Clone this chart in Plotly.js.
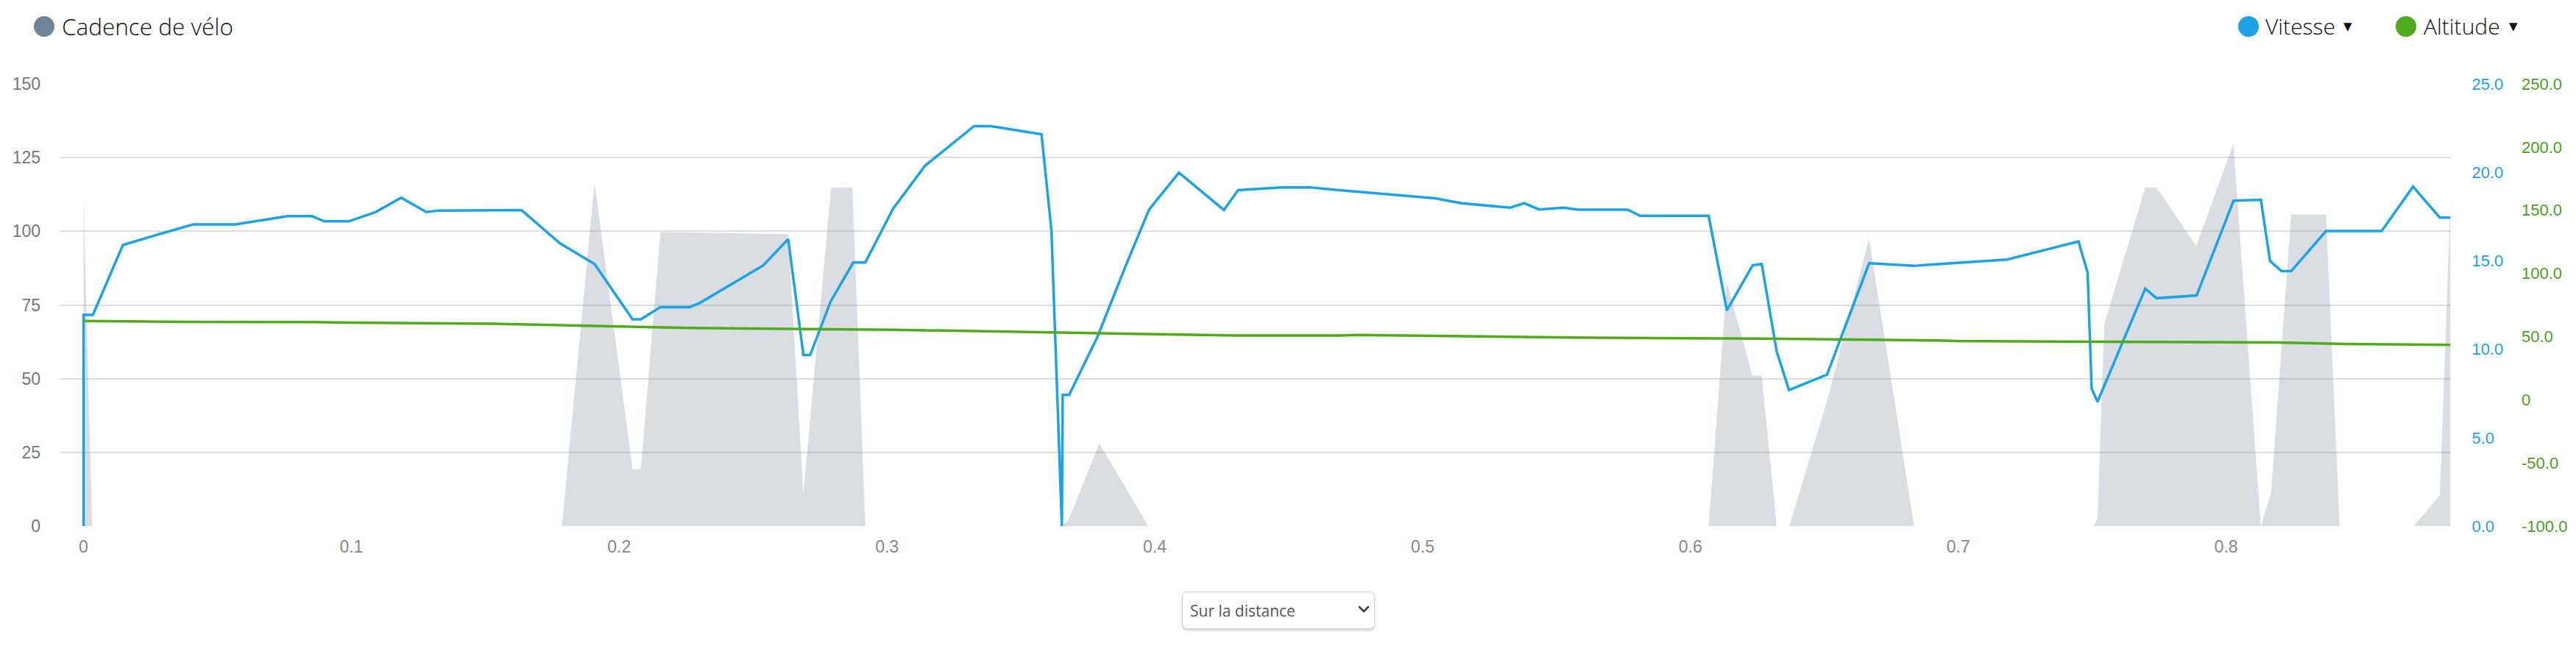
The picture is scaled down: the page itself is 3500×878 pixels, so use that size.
<!DOCTYPE html>
<html>
<head>
<meta charset="utf-8">
<script src="https://cdn.plot.ly/plotly-3.0.1.min.js"></script>
<style>
  html, body { margin:0; padding:0; background:#fff; width:3500px; height:878px; overflow:hidden; }
  #chart { position:absolute; left:0; top:0; width:3500px; height:878px; }
  .lg { position:absolute; font-family:"Open Sans Light","Open Sans",sans-serif; font-weight:300; font-size:30px; color:#111; line-height:40px; height:40px; top:16px; white-space:nowrap; }
  .dot { position:absolute; width:28px; height:28px; border-radius:50%; top:22px; }
  .tri { position:absolute; font-family:"DejaVu Sans",sans-serif; font-size:15px; color:#111; top:27px; line-height:18px; }
  #sel { position:absolute; left:1606px; top:804px; width:262px; height:51px; box-sizing:border-box;
         border:1px solid #cfcfcf; border-radius:7px; box-shadow:0 2px 3px rgba(0,0,0,0.18);
         font-family:"Open Sans",sans-serif; font-size:21px; color:#555; background:#fff;
         padding:0 0 0 10px; -webkit-appearance:none; appearance:none; outline:none; }
  #chev { position:absolute; left:1845px; top:822px; width:16px; height:12px; pointer-events:none; }
</style>
</head>
<body>
<div id="chart"></div>

<div class="dot" style="left:46px;background:#6f8599;"></div>
<div class="lg" style="left:84px;font-size:31.5px;">Cadence de vélo</div>

<div class="dot" style="left:3041px;background:#1ba3e6;"></div>
<div class="lg" style="left:3078px;">Vitesse</div>
<div class="tri" style="left:3184px;">▼</div>

<div class="dot" style="left:3255px;background:#4fab1c;"></div>
<div class="lg" style="left:3293px;">Altitude</div>
<div class="tri" style="left:3409px;">▼</div>

<select id="sel"><option>Sur la distance</option></select>
<svg id="chev" viewBox="0 0 16 12"><polyline points="2,3 8,9 14,3" fill="none" stroke="#444" stroke-width="2.6" stroke-linecap="round" stroke-linejoin="round"/></svg>

<script>
// ---- Data (distance in km) ----
const cadenceDist = [0, 0.0032, 0.1786, 0.1908, 0.2050, 0.2081, 0.2154, 0.2263, 0.2631, 0.2688, 0.2791, 0.2871, 0.2919, 0.3655, 0.3680, 0.3793, 0.3976, 0.6068, 0.6136, 0.6231, 0.6266, 0.6322, 0.6369, 0.6510, 0.6667, 0.6835, 0.7504, 0.7520, 0.7545, 0.7698, 0.7740, 0.7889, 0.8027, 0.8130, 0.8168, 0.8243, 0.8373, 0.8424, 0.8700, 0.8798, 0.8838];
const cadence     = [111, 0, 0, 116.6, 19.3, 19.3, 99.8, 99.6, 99.0, 10.9, 114.8, 114.8, 0, 0, 2.5, 28.0, 0, 0, 82.7, 51.1, 51.1, 0, 0, 42.5, 97.6, 0, 0, 2.5, 68.5, 114.8, 114.8, 95.1, 129.6, 0, 11.4, 105.7, 105.7, 0, 0, 10.4, 111.2];

const speedDist = [0, 0, 0.0035, 0.0147, 0.0274, 0.0411, 0.0567, 0.0762, 0.0853, 0.0899, 0.0990, 0.1090, 0.1186, 0.1280, 0.1326, 0.1524, 0.1635, 0.1780, 0.1908, 0.2050, 0.2081, 0.2154, 0.2263, 0.2299, 0.2538, 0.2631, 0.2688, 0.2713, 0.2790, 0.2874, 0.2919, 0.3023, 0.3142, 0.3325, 0.3389, 0.3577, 0.3614, 0.3653, 0.3656, 0.3680, 0.3785, 0.3892, 0.3979, 0.4090, 0.4258, 0.4311, 0.4471, 0.4578, 0.4689, 0.5046, 0.5145, 0.5328, 0.5379, 0.5435, 0.5526, 0.5580, 0.5766, 0.5812, 0.6068, 0.6136, 0.6232, 0.6266, 0.6322, 0.6368, 0.6510, 0.6667, 0.6835, 0.6884, 0.7025, 0.7183, 0.7449, 0.7483, 0.7498, 0.7520, 0.7698, 0.7741, 0.7890, 0.8028, 0.8130, 0.8164, 0.8207, 0.8243, 0.8373, 0.8581, 0.8698, 0.8798, 0.8838];
const speed     = [0, 11.94, 11.94, 15.89, 16.47, 17.06, 17.06, 17.52, 17.52, 17.23, 17.23, 17.75, 18.56, 17.75, 17.84, 17.87, 17.87, 15.97, 14.82, 11.69, 11.69, 12.38, 12.38, 12.60, 14.74, 16.22, 9.67, 9.67, 12.71, 14.90, 14.90, 17.95, 20.37, 22.61, 22.61, 22.15, 16.72, 0, 7.41, 7.41, 10.67, 14.74, 17.90, 19.98, 17.87, 18.99, 19.15, 19.15, 18.99, 18.53, 18.25, 18.00, 18.26, 17.90, 18.00, 17.89, 17.89, 17.54, 17.54, 12.19, 14.74, 14.82, 9.88, 7.69, 8.56, 14.86, 14.71, 14.77, 14.90, 15.07, 16.09, 14.33, 7.77, 7.03, 13.42, 12.88, 13.04, 18.40, 18.45, 14.99, 14.41, 14.41, 16.68, 16.68, 19.19, 17.44, 17.44];

const altDist = [0, 0.0147, 0.0411, 0.0853, 0.0990, 0.1524, 0.1635, 0.1908, 0.2263, 0.2631, 0.3023, 0.3611, 0.4311, 0.4689, 0.4757, 0.5549, 0.6281, 0.6922, 0.7000, 0.8197, 0.8442, 0.8838];
const altitude = [62.3, 61.9, 61.6, 61.4, 61.0, 60.2, 59.6, 58.4, 56.8, 56.1, 55.4, 53.3, 50.8, 50.8, 51.3, 49.2, 48.3, 46.9, 46.4, 45.3, 44.1, 43.4];

const cadenceTicks = [0, 25, 50, 75, 100, 125, 150];
const speedTicks = [0, 5, 10, 15, 20, 25];
const speedTickText = ["0.0", "5.0", "10.0", "15.0", "20.0", "25.0"];
const altTicks = [-100, -50, 0, 50, 100, 150, 200, 250];
const altTickText = ["-100.0", "-50.0", "0", "50.0", "100.0", "150.0", "200.0", "250.0"];

// ---- Styles ----
const BLUE = '#1ba3e6', GREEN = '#4fab1c';
const tickFont = (c, s) => ({family: 'Liberation Sans, Arial, sans-serif', size: s, color: c});

const traces = [
  {x: cadenceDist, y: cadence, type: 'scatter', mode: 'lines', fill: 'tozeroy',
   line: {width: 0, color: 'rgba(0,0,0,0)'}, fillcolor: 'rgba(120,132,146,0.27)', yaxis: 'y', hoverinfo: 'skip'},
  {x: altDist, y: altitude, type: 'scatter', mode: 'lines', line: {color: GREEN, width: 3.5}, yaxis: 'y3'},
  {x: speedDist, y: speed, type: 'scatter', mode: 'lines', line: {color: BLUE, width: 3.5}, yaxis: 'y2'}
];

const layout = {
  width: 3500, height: 878,
  margin: {l: 82, r: 103, t: 114, b: 163, pad: 0},
  paper_bgcolor: '#fff', plot_bgcolor: '#fff',
  showlegend: false,
  xaxis: {range: [-0.00866, 0.8838], domain: [0, 0.97964], tick0: 0, dtick: 0.1,
          showgrid: false, zeroline: false, showline: false, ticks: '',
          ticklabelstandoff: 12, tickfont: tickFont('#888', 23)},
  yaxis: {range: [0, 150], tickvals: cadenceTicks, gridcolor: '#dedede', gridwidth: 2,
          zeroline: false, showline: false, ticks: '', ticklabelstandoff: 26, tickfont: tickFont('#777', 23)},
  yaxis2: {range: [0, 25], overlaying: 'y', side: 'right', anchor: 'x',
           tickvals: speedTicks, ticktext: speedTickText, showgrid: false, zeroline: false,
           showline: false, ticks: '', ticklabelstandoff: 28, tickfont: tickFont(BLUE, 22)},
  yaxis3: {range: [-100, 250], overlaying: 'y', side: 'right', anchor: 'free', position: 1,
           tickvals: altTicks, ticktext: altTickText, showgrid: false, zeroline: false,
           showline: false, ticks: '', ticklabelstandoff: 28, tickfont: tickFont('#4a9f1a', 22)}
};

Plotly.newPlot('chart', traces, layout, {staticPlot: true, displayModeBar: false});
</script>
</body>
</html>
